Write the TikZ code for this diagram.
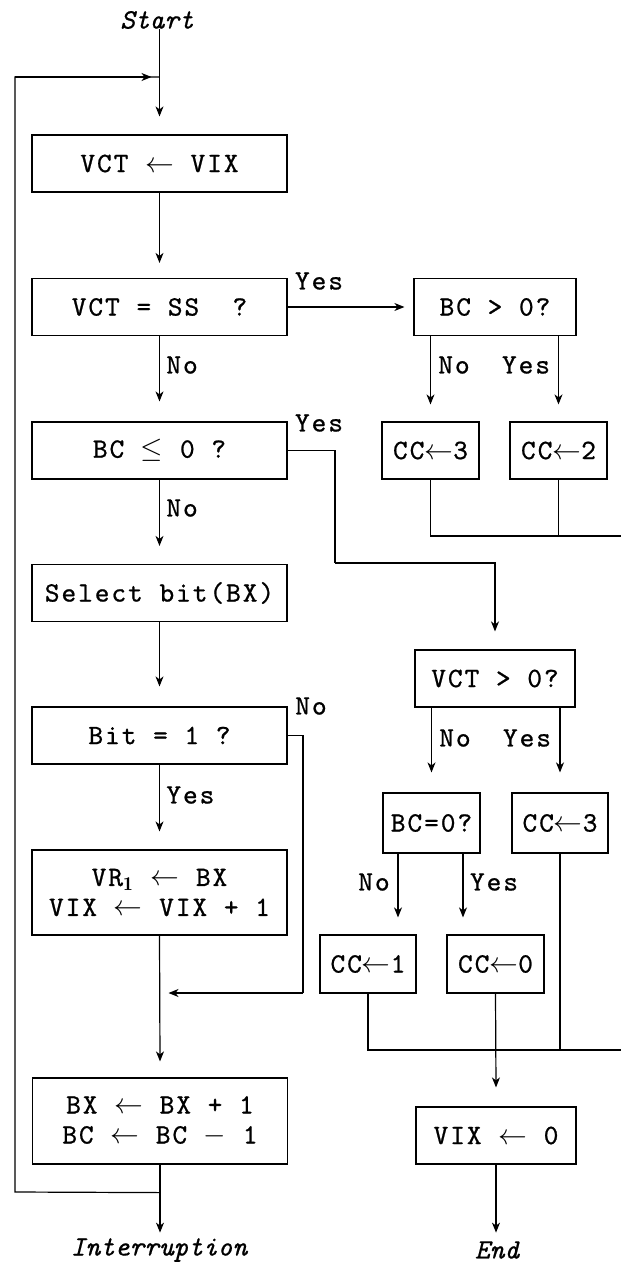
\documentclass[tikz,border=0pt]{standalone}
\usepackage{fontspec}
\newfontfamily\bxfont[LetterSpace=7,FakeBold=0.8]{lmmono10-regular.otf}
\newfontfamily\itfont[FakeBold=0.6]{lmmono10-italic.otf}
\usetikzlibrary{arrows.meta,calc}
\newcommand{\myla}{$\leftarrow$}
\newcommand{\mylat}{$\leftarrow$}
\tikzset{
  box/.style={draw, line width=0.6pt, minimum height=28.5pt, inner sep=0pt,
    font=\fontsize{14pt}{15pt}\bxfont, align=center},
  lbl/.style={font=\fontsize{14pt}{15pt}\bxfont, inner sep=0pt},
  term/.style={font=\fontsize{14pt}{15pt}\itfont, inner sep=0pt},
  ln/.style={line width=0.6pt},
  arr/.style={ln, -{Stealth[length=5pt,width=4pt,inset=1.5pt]}},
}
\begin{document}
\begin{tikzpicture}[x=0.5pt,y=-0.5pt]
\useasboundingbox (0,0) rectangle (621,1262);
% left column
\node[term] (start) at (157,20) {Start};
\node[box, minimum width=127.5pt] (b1) at (159.5,163.5) {VCT \myla{} VIX};
\node[box, minimum width=127.5pt] (b2) at (159.5,307) {VCT = SS\ \ ?};
\node[box, minimum width=127.5pt] (b3) at (159.5,450.5) {BC $\leq$ 0 ?};
\node[box, minimum width=127.5pt] (b4) at (159.5,593) {Select bit(BX)};
\node[box, minimum width=127.5pt] (b5) at (159.5,735.5) {Bit = 1 ?};
\node[box, minimum width=127.5pt, minimum height=42.5pt] (b6) at (159.5,892.5) {VR$_{\mathbf{1}}$ \myla{} BX\\VIX \myla{} VIX + 1};
\node[box, minimum width=127.5pt, minimum height=43pt] (b7) at (160,1121) {BX \myla{} BX + 1\\BC \myla{} BC $-$ 1};
\node[term] (intr) at (159,1250) {Interruption};
% right column
\node[box, minimum width=81pt] (r1) at (495,307) {BC > 0?};
\node[box, minimum width=48.5pt] (r2) at (430.5,450.5) {CC\mylat3};
\node[box, minimum width=48.5pt] (r3) at (558.5,450.5) {CC\mylat2};
\node[box, minimum width=80pt] (r4) at (495,678.5) {VCT > 0?};
\node[box, minimum width=48.5pt, minimum height=30pt] (r5) at (431.5,823) {BC=0?};
\node[box, minimum width=48pt, minimum height=30pt] (r6) at (560,823) {CC\mylat3};
\node[box, minimum width=48pt, minimum height=29pt] (r7) at (368,964) {CC\mylat1};
\node[box, minimum width=48.5pt, minimum height=29pt] (r8) at (495.5,964) {CC\mylat0};
\node[box, minimum width=80pt] (r9) at (496,1135.5) {VIX \myla{} 0};
\node[term] (endn) at (497,1250) {End};
% labels
\node[lbl] (y1) at (319,281) {Yes};
\node[lbl, anchor=west] (n1) at (166,365) {No};
\node[lbl] (y2) at (319,423) {Yes};
\node[lbl, anchor=west] (n2) at (166,508) {No};
\node[lbl] (n3) at (311,706) {No};
\node[lbl, anchor=west] (y3) at (166,795) {Yes};
\node[lbl] (n4) at (454,365) {No};
\node[lbl] (y4) at (526,365) {Yes};
\node[lbl] (n5) at (455,738) {No};
\node[lbl] (y5) at (527,738) {Yes};
\node[lbl] (n6) at (374,882) {No};
\node[lbl] (y6) at (494,882) {Yes};
% connectors: main column
\draw[arr] (b1.north |- start.south) -- ($(b1.north)+(0,-18)$);
\coordinate (jb) at ($(b7.south)+(0,28)$);
\coordinate (lb) at (15,1192);
\coordinate (lt) at (15,77);
\coordinate (jt) at (b1.north |- lt);
\draw[ln] (jb) -- (lb) -- (lt) -- (jt);
\draw[arr] (lt) -- ($(jt)+(-8,0)$);
\draw[arr] (b7.south) -- ($(b7.south)+(0,68)$);
\draw[arr] (b1.south) -- ($(b2.north)+(0,-15)$);
\draw[arr] (b2.east) -- ($(r1.west)+(-9,0)$);
\draw[arr] (b2.south) -- ($(b3.north)+(0,-20)$);
\draw[arr] (b3.south) -- ($(b4.north)+(0,-18)$);
\draw[arr] (b4.south) -- ($(b5.north)+(0,-20)$);
\draw[arr] (b5.south) -- ($(b6.north)+(0,-18)$);
\draw[arr] (b6.south) -- ($(b7.north)+(0,-16)$);
% Bit = 1 ? No branch
\coordinate (rx) at (303,993);
\draw[ln] (b5.east) -| (rx);
\draw[arr] (rx) -- ($(b6.south |- rx)+(9,0)$);
% BC <= 0 ? Yes branch
\coordinate (yb) at (335,563);
\draw[ln] (b3.east) -| (yb);
\draw[arr] (yb) -| ($(r4.north)+(0,-18)$);
% right column
\draw[arr] (r2.north |- r1.south) -- ($(r2.north)+(0,-17)$);
\draw[arr] (r3.north |- r1.south) -- ($(r3.north)+(0,-17)$);
\coordinate (e1) at (621,536);
\draw[ln] (r2.south) |- (e1);
\draw[ln] (r3.south) -- (r3.south |- e1);
\draw[arr] (r5.north |- r4.south) -- ($(r5.north)+(0,-20)$);
\draw[arr] (r6.north |- r4.south) -- ($(r6.north)+(0,-20)$);
\coordinate (c1) at (398,0);
\coordinate (c2) at (463,0);
\draw[arr] (c1 |- r5.south) -- ($(c1 |- r7.north)+(0,-17)$);
\draw[arr] (c2 |- r5.south) -- ($(c2 |- r8.north)+(0,-17)$);
\coordinate (e2) at (621,1050);
\draw[ln] (r7.south) |- (e2);
\draw[ln] (r6.south) -- (r6.south |- e2);
\draw[arr] (r8.south) -- ($(r9.north)+(0,-19)$);
\draw[arr] (r9.south) -- ($(r9.south)+(0,68)$);
\end{tikzpicture}
\end{document}
